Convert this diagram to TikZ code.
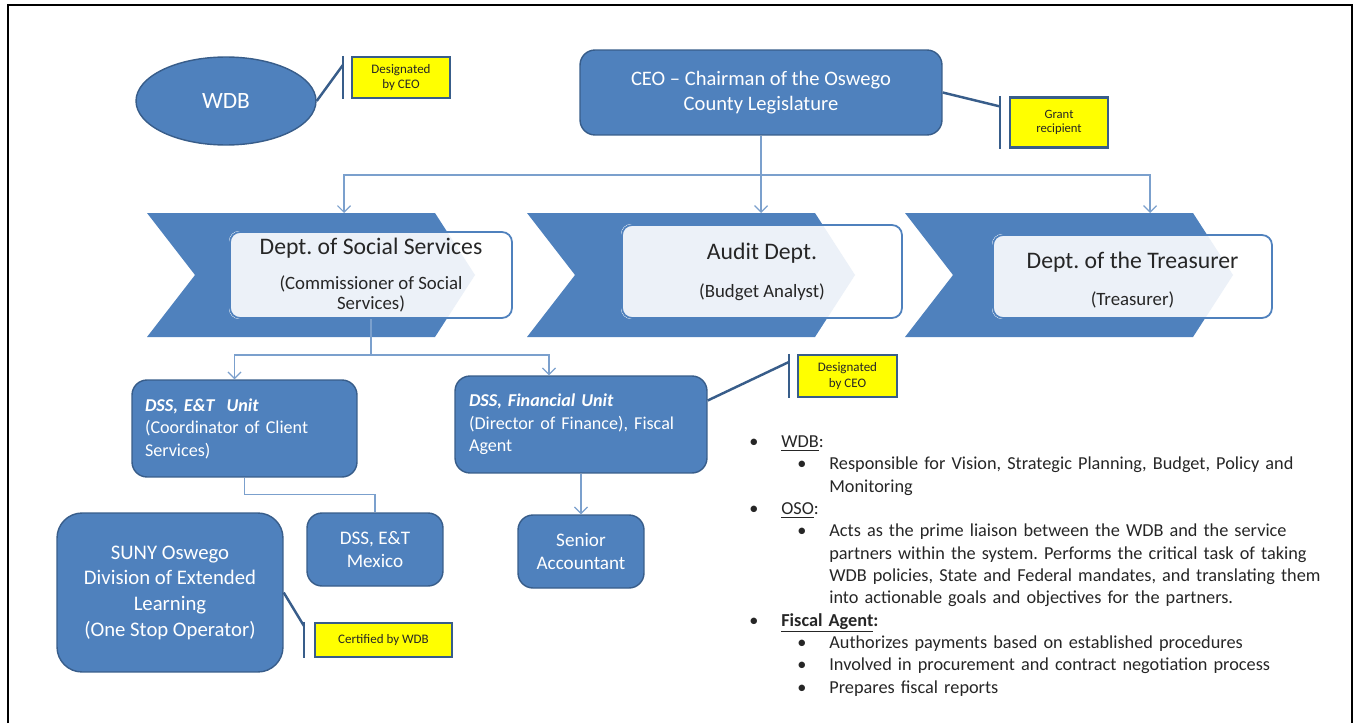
\documentclass[tikz,border=0pt]{standalone}
\usepackage{fontspec}
\setmainfont{Carlito}
\usepackage{enumitem}
\usetikzlibrary{arrows.meta,positioning,shapes.geometric,calc,backgrounds}
\definecolor{orgblue}{HTML}{4F81BD}
\definecolor{orgedge}{HTML}{385D8A}
\definecolor{linkblue}{HTML}{7BA0CD}
\definecolor{noteyellow}{HTML}{FFFF00}
\definecolor{inktext}{HTML}{262626}
\frenchspacing

\begin{document}
\begin{tikzpicture}[
    x=0.02cm, y=-0.02cm,
    unit/.style={rectangle, draw=orgedge, line width=0.8pt, rounded corners=0.3cm,
                 fill=orgblue, text=white, font=\fontsize{10.3}{12.8}\selectfont},
    dept/.style={rectangle, draw=orgblue, line width=1pt, rounded corners=0.2cm,
                 text=inktext, align=center, font=\fontsize{10.7}{11.4}\selectfont},
    note/.style={rectangle, draw=orgedge, line width=1.2pt, fill=noteyellow, text=inktext,
                 font=\fontsize{7.4}{9}\selectfont, align=center, inner sep=1pt},
    tie/.style={draw=orgedge, line width=1.4pt},
    link/.style={draw=linkblue, line width=0.7pt},
    arr/.style={link, -{Straight Barb[length=1.3mm, width=2.6mm]}},
]
    \useasboundingbox (0,0) rectangle (1354,723);
    \draw[line width=1.3pt] (8,723) -- (8,5) -- (1352,5) -- (1352,723);

    % top level
    \node[ellipse, draw=orgedge, line width=0.8pt, fill=orgblue, text=white,
          minimum width=3.6cm, minimum height=1.76cm, font=\fontsize{13.3}{15}\selectfont]
          (wdb) at (226,101) {WDB};
    \node[unit, align=center, minimum width=7.24cm, minimum height=1.7cm,
          font=\fontsize{11.7}{14.2}\selectfont]
          (ceo) at (761,92.5) {CEO -- Chairman of the Oswego\\County Legislature};

    \node[note, minimum width=1.96cm, minimum height=0.82cm] (desig1) at (401,77.5) {Designated\\by CEO};
    \node[note, minimum width=1.96cm, minimum height=1.0cm, font=\fontsize{7.2}{7.6}\selectfont]
        (grant) at (1059,122.5) {Grant\\recipient};

    % departments: chevron band with a box over each
    \node[dept, minimum width=5.64cm, minimum height=1.72cm] (dss) at (371,275)
        {{\fontsize{13.5}{15}\selectfont Dept. of Social Services}\\[8.5pt]
         (Commissioner of Social\\Services)};
    \node[dept, minimum width=5.6cm, minimum height=1.86cm] (audit) at (762,271.5)
        {{\fontsize{13.5}{15}\selectfont Audit Dept.}\\[10.3pt](Budget Analyst)};
    \node[dept, minimum width=5.58cm, minimum height=1.66cm] (treas) at (1132.5,276.5)
        {{\fontsize{13.5}{15}\selectfont\rule{0pt}{13.5pt}Dept. of the Treasurer}\\[9.2pt](Treasurer)};

    \begin{pgfonlayer}{background}
        \foreach \x/\d in {147/dss,527/audit,905/treas} {
            \fill[orgblue] (\x,213) -- ++(288,0) -- ++(40,62) -- ++(-40,62)
                           -- ++(-288,0) -- ++(48,-62) -- cycle;
            \fill[white, rounded corners=0.2cm] (\d.south west) rectangle (\d.north east);
            \begin{scope}
                \clip[rounded corners=0.2cm] (\d.south west) rectangle (\d.north east);
                \fill[orgblue!11] (\x,213) -- ++(288,0) -- ++(40,62) -- ++(-40,62)
                                  -- ++(-288,0) -- cycle;
            \end{scope}
        }
    \end{pgfonlayer}

    \coordinate (split) at (761,175);
    \coordinate (in1) at (344,213);
    \coordinate (in2) at (761,213);
    \coordinate (in3) at (1150,213);
    \draw[link] (ceo) -- (split);
    \draw[arr] (split) -| (in1);
    \draw[arr] (split) -- (in2);
    \draw[arr] (split) -| (in3);

    % DSS units
    \node[unit, align=left, text width=3.98cm, inner xsep=0.26cm, minimum height=1.94cm]
        (etunit) at (244.5,428.5)
        {\textbf{\textit{DSS, E\&T~~Unit}}\\(Coordinator of Client\\Services)};
    \node[unit, align=left, text width=4.48cm, inner xsep=0.28cm, minimum height=1.94cm]
        (finunit) at (581,424.5)
        {\textbf{\textit{DSS, Financial Unit}}\\(Director of Finance), Fiscal\\Agent};
    \node[unit, align=center, minimum width=2.52cm, minimum height=1.46cm,
          font=\fontsize{10.9}{12.8}\selectfont]
        (senior) at (581,551.5) {Senior\\Accountant};
    \node[unit, align=center, minimum width=2.72cm, minimum height=1.46cm,
          font=\fontsize{10.9}{12.8}\selectfont]
        (mexico) at (375,549.5) {DSS, E\&T\\Mexico};
    \node[unit, align=center, rounded corners=0.5cm, minimum width=4.52cm, minimum height=3.18cm,
          font=\fontsize{11.8}{14.6}\selectfont]
        (suny) at (170,592.5) {SUNY Oswego\\Division of Extended\\Learning\\(One Stop Operator)};

    \node[note, minimum width=1.98cm, minimum height=0.84cm] (desig2) at (847.5,376) {Designated\\by CEO};
    \node[note, minimum width=2.74cm, minimum height=0.68cm] (cert) at (383.5,640) {Certified by WDB};

    \coordinate (dsplit) at (371,355);
    \draw[link] (dss) -- (dsplit);
    \draw[arr] (dsplit) -| ([xshift=-0.2cm]etunit.north);
    \draw[arr] (dsplit) -| ([xshift=-0.64cm]finunit.north);
    \draw[link] (etunit.south) -- ++(0,17) -| (mexico.north);
    \draw[arr] (finunit) -- (senior);

    % callout ties
    \draw[tie] (wdb.east) -- ([xshift=-0.16cm,yshift=-0.18cm]desig1.north west);
    \draw[tie] ([xshift=-0.16cm]desig1.north west) -- ([xshift=-0.16cm]desig1.south west);
    \draw[tie] (ceo.east) -- ([xshift=-0.18cm,yshift=-0.2cm]grant.north west);
    \draw[tie] ([xshift=-0.18cm]grant.north west) -- ([xshift=-0.18cm]grant.south west);
    \draw[tie] ([yshift=0.48cm]finunit.east) -- ([xshift=-0.16cm,yshift=-0.16cm]desig2.north west);
    \draw[tie] ([xshift=-0.16cm]desig2.north west) -- ([xshift=-0.16cm]desig2.south west);
    \draw[tie] (suny.east) -- ([xshift=-0.2cm,yshift=-0.08cm]cert.north west);
    \draw[tie] ([xshift=-0.2cm]cert.north west) -- ([xshift=-0.2cm]cert.south west);

    % roles
    \node[anchor=north west, inner sep=0pt, text width=11.8cm, text=inktext,
          font=\fontsize{10.4}{12.7}\selectfont] (roles) at (747,425) {%
        \begin{itemize}[label=\textbullet, leftmargin=0.68cm, labelsep=0.46cm,
                        itemsep=0pt, topsep=0pt, parsep=0pt, partopsep=0pt]
        \item \underline{WDB}:
            \begin{itemize}[label=\textbullet, leftmargin=0.96cm, labelsep=0.46cm,
                            itemsep=0pt, topsep=0pt, parsep=0pt, partopsep=0pt]
            \item Responsible for Vision, Strategic Planning, Budget, Policy and\\Monitoring
            \end{itemize}
        \item \underline{OSO}:
            \begin{itemize}[label=\textbullet, leftmargin=0.96cm, labelsep=0.46cm,
                            itemsep=0pt, topsep=0pt, parsep=0pt, partopsep=0pt]
            \item Acts as the prime liaison between the WDB and the service\\
                  partners within the system. Performs the critical task of taking\\
                  WDB policies, State and Federal mandates, and translating them\\
                  into actionable goals and objectives for the partners.
            \end{itemize}
        \item \underline{\textbf{Fiscal Agent}}\textbf{:}
            \begin{itemize}[label=\textbullet, leftmargin=0.96cm, labelsep=0.46cm,
                            itemsep=0pt, topsep=0pt, parsep=0pt, partopsep=0pt]
            \item Authorizes payments based on established procedures
            \item Involved in procurement and contract negotiation process
            \item Prepares fiscal reports
            \end{itemize}
        \end{itemize}};
\end{tikzpicture}
\end{document}
